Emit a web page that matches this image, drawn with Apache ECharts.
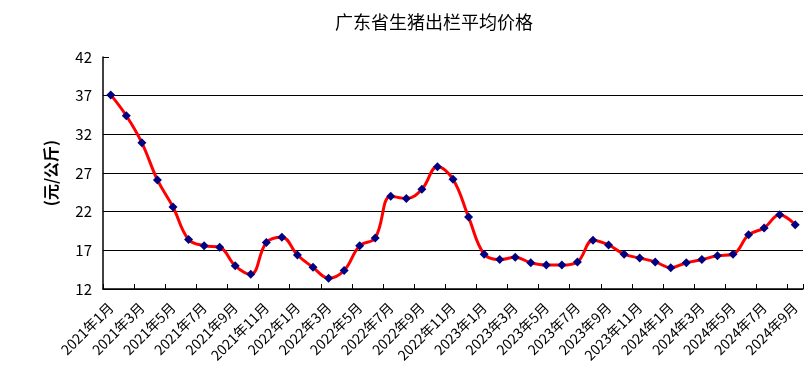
<!DOCTYPE html>
<html><head><meta charset="utf-8">
<script src="https://cdn.jsdelivr.net/npm/echarts@6/dist/echarts.min.js"></script>
<style>html,body{margin:0;padding:0;background:#fff}#c{width:810px;height:386px}</style>
</head><body><div id="c"></div>
<script>
const titleText = '广东省生猪出栏平均价格';
const yName = '(元/公斤)';
const years = [2021, 2022, 2023, 2024];
const categories = [];
for (const y of years) for (let m = 1; m <= 12; m++) { if (y === 2024 && m > 9) break; categories.push(y + '年' + m + '月'); }
const prices = [37.1,34.4,30.9,26.1,22.6,18.4,17.6,17.4,15.0,13.9,18.0,18.7,16.4,14.8,13.4,14.4,17.6,18.6,24.0,23.7,24.9,27.8,26.2,21.3,16.5,15.8,16.1,15.4,15.1,15.1,15.5,18.3,17.7,16.5,16.0,15.5,14.75,15.4,15.8,16.3,16.5,19.0,19.9,21.6,20.3];
const yMin = 12, yMax = 42, yStep = 5;
const font = '"Noto Sans CJK SC", SimSun, sans-serif';
const chart = echarts.init(document.getElementById('c'));
chart.setOption({
  animation: false,
  backgroundColor: '#fff',
  title: { text: titleText, left: 330, top: 8, textStyle: { fontFamily: font, fontSize: 18, fontWeight: 'normal', color: '#000' } },
  grid: { left: 103, right: 7, top: 57, bottom: 97 },
  xAxis: {
    type: 'category', data: categories, boundaryGap: true,
    axisLine: { lineStyle: { color: '#000', width: 1.5 } },
    axisTick: { show: true, inside: true, length: 5, interval: 1, lineStyle: { color: '#000' } },
    axisLabel: { interval: 1, rotate: 45, margin: 16, fontFamily: font, fontSize: 14, color: '#000' },
    splitLine: { show: false }
  },
  yAxis: {
    type: 'value', min: yMin, max: yMax, interval: yStep,
    name: yName, nameLocation: 'middle', nameRotate: 90, nameGap: 44,
    nameTextStyle: { fontFamily: font, fontSize: 16, fontWeight: 'bold', color: '#000' },
    axisLine: { show: true, lineStyle: { color: '#000', width: 1.5 } },
    axisTick: { show: true, inside: true, length: 6, lineStyle: { color: '#000' } },
    axisLabel: { fontFamily: font, fontSize: 15, color: '#000', margin: 11 },
    splitLine: { show: true, lineStyle: { color: ['#000','#000','#000','#000','#000','#000','rgba(0,0,0,0)'], width: 1.2 } }
  },
  series: [{
    type: 'line', data: prices, smooth: 0.4,
    lineStyle: { color: '#ff0000', width: 3 },
    symbol: 'diamond', symbolSize: 9,
    itemStyle: { color: '#000080' }
  }]
});
</script></body></html>
